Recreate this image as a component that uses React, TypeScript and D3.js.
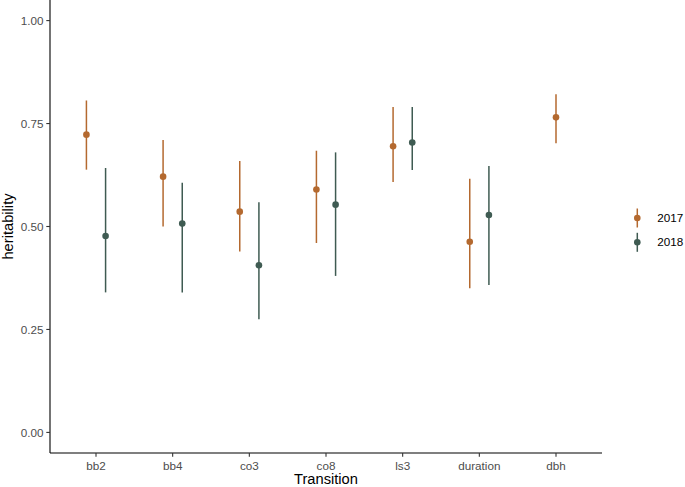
import React from "react";
import * as d3 from "d3";

const categories = ["bb2", "bb4", "co3", "co8", "ls3", "duration", "dbh"];
const years = ["2017", "2018"];

// estimate, lower, upper per category (null = no estimate)
const est2017 = [0.723, 0.621, 0.536, 0.59, 0.695, 0.463, 0.765];
const lo2017 = [0.638, 0.5, 0.439, 0.46, 0.608, 0.35, 0.702];
const hi2017 = [0.806, 0.71, 0.659, 0.684, 0.79, 0.616, 0.821];

const est2018 = [0.477, 0.507, 0.406, 0.553, 0.704, 0.528, null];
const lo2018 = [0.34, 0.34, 0.275, 0.38, 0.637, 0.358, null];
const hi2018 = [0.642, 0.606, 0.559, 0.68, 0.79, 0.647, null];

const yTicks = [0, 0.25, 0.5, 0.75, 1];
const colors = { "2017": "#B4692F", "2018": "#3F5B52" };

const width = 685;
const height = 487;
const margin = { left: 50, right: 83, top: 0, bottom: 34 };

export default function App() {
  const x = d3
    .scalePoint()
    .domain(categories)
    .range([margin.left, width - margin.right])
    .padding(0.6);
  const y = d3
    .scaleLinear()
    .domain([-0.05, 1.05])
    .range([height - margin.bottom, margin.top]);

  const dodge = x.step() * 0.125;
  const axisY = height - margin.bottom;

  const rows = [];
  categories.forEach((c, i) => {
    const has2018 = est2018[i] !== null;
    rows.push({
      year: "2017",
      cx: (x(c) as number) + (has2018 ? -dodge : 0),
      est: est2017[i],
      lo: lo2017[i],
      hi: hi2017[i],
    });
    if (has2018) {
      rows.push({
        year: "2018",
        cx: (x(c) as number) + dodge,
        est: est2018[i],
        lo: lo2018[i],
        hi: hi2018[i],
      });
    }
  });

  const font = "'Liberation Sans', Arial, Helvetica, sans-serif";

  return (
    <svg
      width={width}
      height={height}
      style={{ position: "absolute", left: 0, top: 0, background: "#fff" }}
      fontFamily={font}
    >
      {/* points + ranges */}
      {rows.map((r, i) => (
        <g key={i}>
          <line
            x1={r.cx}
            x2={r.cx}
            y1={y(r.lo)}
            y2={y(r.hi)}
            stroke={colors[r.year]}
            strokeWidth={1.5}
          />
          <circle cx={r.cx} cy={y(r.est)} r={3.3} fill={colors[r.year]} />
        </g>
      ))}

      {/* y axis */}
      <line x1={margin.left} x2={margin.left} y1={margin.top} y2={axisY} stroke="#000" strokeWidth={1.1} />
      {yTicks.map((t) => (
        <g key={t}>
          <line x1={margin.left - 3.7} x2={margin.left} y1={y(t)} y2={y(t)} stroke="#333" strokeWidth={1.1} />
          <text
            x={margin.left - 6.5}
            y={y(t)}
            dy="0.35em"
            textAnchor="end"
            fontSize={11.7}
            fill="#4D4D4D"
          >
            {d3.format(".2f")(t)}
          </text>
        </g>
      ))}
      <text
        transform={`translate(13,${(margin.top + axisY) / 2}) rotate(-90)`}
        textAnchor="middle"
        fontSize={14.7}
        fill="#000"
      >
        heritability
      </text>

      {/* x axis */}
      <line x1={margin.left} x2={width - margin.right} y1={axisY} y2={axisY} stroke="#000" strokeWidth={1.1} />
      {categories.map((c) => (
        <g key={c}>
          <line x1={x(c)} x2={x(c)} y1={axisY} y2={axisY + 3.7} stroke="#333" strokeWidth={1.1} />
          <text x={x(c)} y={axisY + 16.5} textAnchor="middle" fontSize={11.7} fill="#4D4D4D">
            {c}
          </text>
        </g>
      ))}
      <text
        x={(margin.left + width - margin.right) / 2}
        y={height - 3}
        textAnchor="middle"
        fontSize={14.7}
        fill="#000"
      >
        Transition
      </text>

      {/* legend */}
      {years.map((yr, i) => {
        const cy = 218 + i * 24.3;
        const kx = 637.3;
        return (
          <g key={yr}>
            <line x1={kx} x2={kx} y1={cy - 9.5} y2={cy + 9.5} stroke={colors[yr]} strokeWidth={1.5} />
            <circle cx={kx} cy={cy} r={3.3} fill={colors[yr]} />
            <text x={657.3} y={cy} dy="0.35em" fontSize={11.7} fill="#000">
              {yr}
            </text>
          </g>
        );
      })}
    </svg>
  );
}
